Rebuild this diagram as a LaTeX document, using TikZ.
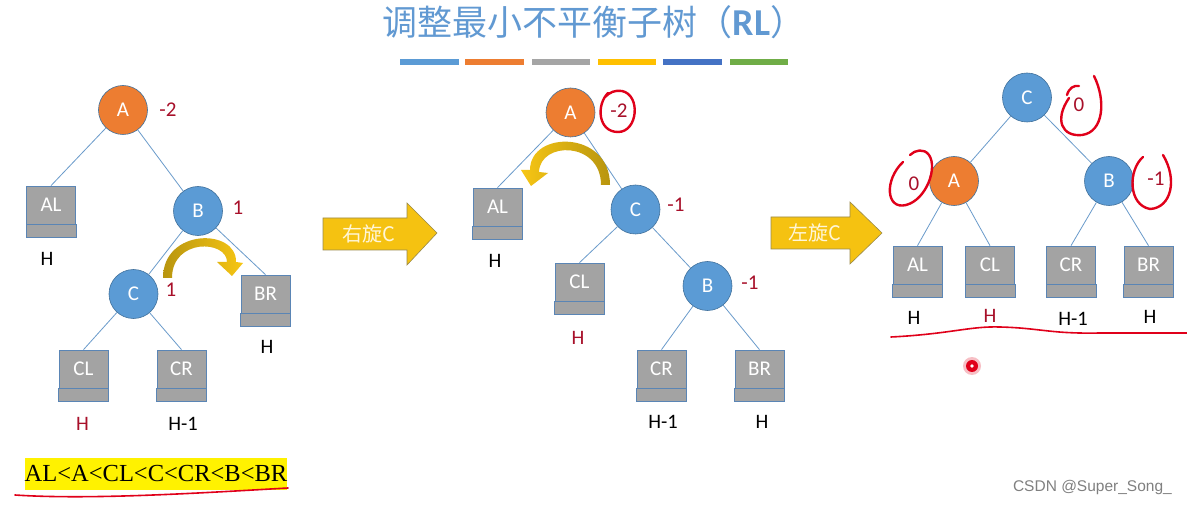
\documentclass[tikz,border=0pt]{standalone}
\usepackage{fontspec}
\setmainfont{Carlito}
\newfontfamily\cjk{Noto Sans CJK SC}
\newfontfamily\latinb{Carlito}
\newfontfamily\serifx{Liberation Serif}
\newfontfamily\wmfont{Liberation Sans}
\usetikzlibrary{arrows.meta}
\definecolor{titleblue}{HTML}{6199D2}
\definecolor{cblue}{HTML}{5B9BD5}
\definecolor{corange}{HTML}{ED7D31}
\definecolor{cedge}{HTML}{41719C}
\definecolor{boxgray}{HTML}{A3A3A3}
\definecolor{boxedge}{HTML}{5A85B5}
\definecolor{lineblue}{HTML}{6A9BCB}
\definecolor{labred}{HTML}{A8102A}
\definecolor{ink}{HTML}{E0001A}
\definecolor{barblue}{HTML}{5B9BD5}
\definecolor{barorange}{HTML}{ED7D31}
\definecolor{bargray}{HTML}{A5A5A5}
\definecolor{baryellow}{HTML}{FFC000}
\definecolor{bardblue}{HTML}{4472C4}
\definecolor{bargreen}{HTML}{70AD47}
\definecolor{golddark}{HTML}{B8950F}
\definecolor{goldlight}{HTML}{F7C614}
\definecolor{arrowfill}{HTML}{F5C211}
\definecolor{arrowedge}{HTML}{9A8A4A}
\definecolor{arrowtxt}{HTML}{FFF6D8}
\definecolor{wmgray}{HTML}{808080}
\begin{document}
\begin{tikzpicture}[x=1pt,y=-1pt,
  circ/.style={circle, draw=cedge, line width=0.6pt, minimum size=49pt, inner sep=0pt, text=white, font=\fontsize{21}{24}\selectfont},
  bluec/.style={circ, fill=cblue},
  orangec/.style={circ, fill=corange},
  tbox/.style={rectangle, draw=boxedge, line width=0.7pt, fill=boxgray, minimum width=49pt, minimum height=38pt, inner sep=0pt, text=white, font=\fontsize{21}{24}\selectfont},
  strip/.style={draw=boxedge, line width=0.7pt, fill=boxgray},
  edge/.style={draw=lineblue, line width=0.8pt},
  bf/.style={text=labred, inner sep=0pt, font=\fontsize{21}{24}\selectfont},
  hlab/.style={text=black, inner sep=0pt, font=\fontsize{20.5}{24}\selectfont},
  hred/.style={hlab, text=labred},
  inkline/.style={draw=ink, line width=2.4pt, line cap=round, line join=round},
  underl/.style={draw=ink, line width=1.6pt, line cap=round},
  blockarrow/.style={fill=arrowfill, draw=arrowedge, line width=0.6pt, line join=miter},
  arrowtext/.style={text=arrowtxt, inner sep=0pt, font=\cjk\fontsize{20}{24}\selectfont}
]
\useasboundingbox (0,0) rectangle (1187,505);
\fill[white] (0,0) rectangle (1187,505);

% title
\node[text=titleblue, inner sep=0pt, font=\cjk\fontsize{35}{40}\selectfont] (title) at (594,22) {调整最小不平衡子树（{\latinb\bfseries\fontsize{38}{40}\selectfont RL}）};
\fill[barblue] (400,59) rectangle (459,65);
\fill[barorange] (465,59) rectangle (524,65);
\fill[bargray] (532,59) rectangle (590,65);
\fill[baryellow] (598,59) rectangle (656,65);
\fill[bardblue] (663,59) rectangle (722,65);
\fill[bargreen] (730,59) rectangle (788,65);

% ===== left tree =====
\node[orangec] (lA) at (123,110) {A};
\node[bluec] (lB) at (198,211) {B};
\node[bluec] (lC) at (133.5,294) {C};
\node[tbox] (lAL) at (51,205) {AL};
\node[tbox] (lBR) at (265.5,294) {BR};
\node[tbox] (lCL) at (83.5,369) {CL};
\node[tbox] (lCR) at (181.5,369) {CR};
\foreach \n in {lAL,lBR,lCL,lCR} {\draw[strip] (\n.south west) rectangle ([yshift=-13pt]\n.south east);}
\draw[edge] (lA) -- (lAL.north);
\draw[edge] (lA) -- (lB);
\draw[edge] (lB) -- (lC);
\draw[edge] (lB) -- (lBR.north);
\draw[edge] (lC) -- (lCL.north);
\draw[edge] (lC) -- (lCR.north);
\node[bf] (lAb) at (168,110) {-2};
\node[bf] (lBb) at (238,208) {1};
\node[bf] (lCb) at (171,290) {1};
\node[hlab] (lALh) at (47,259) {H};
\node[hlab] (lBRh) at (267,347) {H};
\node[hred] (lCLh) at (82.5,424) {H};
\node[hlab] (lCRh) at (183,424) {H-1};
\shade[left color=golddark, right color=goldlight] (163,278) .. controls (163,228) and (237,228) .. (236,262) -- (243,263) -- (232,276) -- (217,262) -- (227,262) .. controls (227,240) and (172,238) .. (172,278) -- cycle;
\node[fill=yellow, inner sep=0pt, minimum width=262pt, minimum height=32pt, text=black, font=\serifx\fontsize{24.5}{28}\selectfont] (order) at (156,474) {AL<A<CL<C<CR<B<BR};
\draw[underl] (15,495) .. controls (90,500) and (200,493) .. (288,488);

% arrow 1
\draw[blockarrow] (323,218) -- (407,218) -- (407,203) -- (437,233) -- (407,265) -- (407,250) -- (323,250) -- cycle;
\node[arrowtext] (rot1) at (369,234) {右旋C};

% ===== middle tree =====
\node[orangec] (mA) at (570.5,112.5) {A};
\node[bluec] (mC) at (635.5,209.5) {C};
\node[bluec] (mB) at (707.5,286) {B};
\node[tbox] (mAL) at (497.5,207) {AL};
\node[tbox] (mCL) at (579.5,282) {CL};
\node[tbox] (mCR) at (661.5,369) {CR};
\node[tbox] (mBR) at (759.5,369) {BR};
\foreach \n in {mAL,mCL,mCR,mBR} {\draw[strip] (\n.south west) rectangle ([yshift=-13pt]\n.south east);}
\draw[edge] (mA) -- (mAL.north);
\draw[edge] (mA) -- (mC);
\draw[edge] (mC) -- (mCL.north);
\draw[edge] (mC) -- (mB);
\draw[edge] (mB) -- (mCR.north);
\draw[edge] (mB) -- (mBR.north);
\node[bf] (mAb) at (619,111) {-2};
\node[bf] (mCb) at (676,205) {-1};
\node[bf] (mBb) at (750,283) {-1};
\node[hlab] (mALh) at (495,261) {H};
\node[hred] (mCLh) at (578,338) {H};
\node[hlab] (mCRh) at (663,422) {H-1};
\node[hlab] (mBRh) at (762,422) {H};
\shade[left color=goldlight, right color=golddark] (610,185) .. controls (610,130) and (530,130) .. (530,170) -- (521,170) -- (531,186) -- (548,173) -- (539,172) .. controls (540,141) and (601,141) .. (601,185) -- cycle;
\draw[inkline] (608,93) .. controls (596,105) and (598,132) .. (618,132) .. controls (638,132) and (641,95) .. (622,91) .. controls (615,90) and (610,92) .. (605,97);

% arrow 2
\draw[blockarrow] (771,217) -- (850,217) -- (850,202) -- (882,233) -- (850,264) -- (850,249) -- (771,249) -- cycle;
\node[arrowtext] (rot2) at (815,233) {左旋C};

% ===== right tree =====
\node[bluec] (rC) at (1027,97.5) {C};
\node[orangec] (rA) at (954,181) {A};
\node[bluec] (rB) at (1109,181) {B};
\node[tbox] (rAL) at (917.5,265) {AL};
\node[tbox] (rCL) at (990,265) {CL};
\node[tbox] (rCR) at (1071,265) {CR};
\node[tbox] (rBR) at (1148.5,265) {BR};
\foreach \n in {rAL,rCL,rCR,rBR} {\draw[strip] (\n.south west) rectangle ([yshift=-13pt]\n.south east);}
\draw[edge] (rC) -- (rA);
\draw[edge] (rC) -- (rB);
\draw[edge] (rA) -- (rAL.north);
\draw[edge] (rA) -- (rCL.north);
\draw[edge] (rB) -- (rCR.north);
\draw[edge] (rB) -- (rBR.north);
\node[bf] (rCb) at (1079,105) {0};
\node[bf] (rAb) at (914,184) {0};
\node[bf] (rBb) at (1156,179) {-1};
\node[hlab] (rALh) at (914,318) {H};
\node[hred] (rCLh) at (990,316) {H};
\node[hlab] (rCRh) at (1073,319) {H-1};
\node[hlab] (rBRh) at (1150,317) {H};
% red ink marks
\draw[inkline] (1067,95) .. controls (1069,88) and (1074,85) .. (1079,86);
\draw[inkline] (1069,98) .. controls (1054,120) and (1062,137) .. (1082,135) .. controls (1104,132) and (1106,100) .. (1094,76);
\draw[inkline] (903,162) .. controls (884,180) and (886,210) .. (906,205) .. controls (926,200) and (938,168) .. (929,155) .. controls (924,148) and (915,150) .. (910,155);
\draw[inkline] (1143,157) .. controls (1128,170) and (1128,205) .. (1150,209) .. controls (1171,208) and (1178,180) .. (1163,155);
\draw[underl] (891,337) .. controls (950,334) and (970,326) .. (1000,327) .. controls (1040,328) and (1050,334) .. (1100,333) -- (1187,333);
% laser dot
\fill[ink, opacity=0.25] (972,366) circle (9);
\fill[ink] (972,366) circle (6);
\fill[white] (972,366) circle (1.8);

% watermark
\node[text=wmgray, inner sep=0pt, anchor=east, font=\wmfont\fontsize{15.5}{18}\selectfont] (wm) at (1172,487) {CSDN @Super\_Song\_};
\end{tikzpicture}
\end{document}
